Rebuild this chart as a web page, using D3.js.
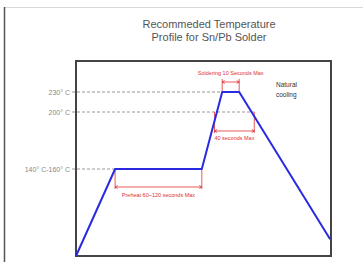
<!DOCTYPE html>
<html>
<head>
<meta charset="utf-8">
<script src="https://cdn.jsdelivr.net/npm/d3@7"></script>
<style>
  body { margin: 0; background: #fff; }
  svg { display: block; font-family: "Liberation Sans", Arial, sans-serif; }
</style>
</head>
<body>
<div id="chart"></div>
<script>
// profile points (time in s, temperature in deg C, schematic)
const profileTime = [0, 46, 148, 172, 192, 299];
const profileTemp = [25, 150, 150, 230, 230, 49];

const tempTicks = [230, 200, 150];
const tempLabels = ["230° C", "200° C", "140° C-160° C"];

const titleLines = ["Recommeded Temperature", "Profile for Sn/Pb Solder"];
const soakLabel = "Preheat 60~120 seconds Max";
const peakLabel = "Soldering 10 Seconds Max";
const reflowLabel = "40 seconds Max";
const coolLabel = ["Natural", "cooling"];

const W = 363, H = 262;
const box = {left: 76, top: 61, right: 331, bottom: 256};

const svg = d3.select("#chart").append("svg")
  .attr("width", W)
  .attr("height", H);

// page frame
svg.append("line")
  .attr("x1", 4).attr("x2", W).attr("y1", 7.5).attr("y2", 7.5)
  .attr("stroke", "#d8d8d8").attr("stroke-width", 1);
svg.append("line")
  .attr("x1", 4.5).attr("x2", 4.5).attr("y1", 7).attr("y2", H)
  .attr("stroke", "#555").attr("stroke-width", 1.5);

svg.selectAll(".title")
  .data(titleLines)
  .join("text")
    .attr("class", "title")
    .attr("x", 209)
    .attr("y", function(d, i){ return 28 + i * 13; })
    .attr("text-anchor", "middle")
    .attr("font-size", 11)
    .attr("fill", "#555")
    .text(function(d){ return d; });

const x = d3.scaleLinear()
  .domain([0, 300])
  .range([box.left, box.right]);

// schematic axis, not to scale
const y = d3.scaleLinear()
  .domain([25, 150, 200, 230, 276])
  .range([box.bottom, 169, 112, 92, box.top]);

const pts = profileTime.map(function(t, i){
  return {t: t, v: profileTemp[i]};
});

// where the profile crosses a temperature
const crossing = function(temp, a, b){
  const f = (temp - a.v) / (b.v - a.v);
  return a.t + f * (b.t - a.t);
};
const t200up = crossing(200, pts[2], pts[3]);
const t200down = crossing(200, pts[4], pts[5]);

// reference lines
const refEnds = [pts[3].t, t200down, pts[1].t];
svg.selectAll(".ref")
  .data(tempTicks)
  .join("line")
    .attr("class", "ref")
    .attr("x1", 72)
    .attr("x2", function(d, i){ return x(refEnds[i]); })
    .attr("y1", function(d){ return y(d); })
    .attr("y2", function(d){ return y(d); })
    .attr("stroke", "#999")
    .attr("stroke-width", 1)
    .attr("stroke-dasharray", "3,2");

svg.selectAll(".tlabel")
  .data(tempTicks)
  .join("text")
    .attr("class", "tlabel")
    .attr("x", 70)
    .attr("y", function(d){ return y(d) + 2.5; })
    .attr("text-anchor", "end")
    .attr("font-size", 7)
    .attr("fill", "#888")
    .text(function(d, i){ return tempLabels[i]; });

// plot box
svg.append("rect")
  .attr("x", box.left).attr("y", box.top)
  .attr("width", box.right - box.left)
  .attr("height", box.bottom - box.top)
  .attr("fill", "none")
  .attr("stroke", "#444")
  .attr("stroke-width", 2);

// red dimension brackets
const red = "#e03030";
const brackets = [
  {t0: pts[1].t, t1: pts[2].t, top: 150, yb: 187, label: soakLabel, ly: 197},
  {t0: pts[3].t, t1: pts[4].t, top: 230, yb: 82, label: peakLabel, ly: 75, up: true},
  {t0: t200up, t1: t200down, top: 200, yb: 131, label: reflowLabel, ly: 140}
];

const br = svg.selectAll(".bracket")
  .data(brackets)
  .join("g")
    .attr("class", "bracket")
    .attr("stroke", red)
    .attr("stroke-width", 0.8);

br.each(function(d){
  const g = d3.select(this);
  const x0 = x(d.t0), x1 = x(d.t1);
  const yEnd = d.up ? d.yb - 3 : d.yb + 2;
  [x0, x1].forEach(function(xx){
    g.append("line")
      .attr("x1", xx).attr("x2", xx)
      .attr("y1", y(d.top)).attr("y2", yEnd);
  });
  g.append("line")
    .attr("x1", x0).attr("x2", x1)
    .attr("y1", d.yb).attr("y2", d.yb);
  // small arrow heads
  g.append("path")
    .attr("fill", "none")
    .attr("d", "M" + (x0 + 2.5) + "," + (d.yb - 1.5) + "L" + x0 + "," + d.yb + "L" + (x0 + 2.5) + "," + (d.yb + 1.5)
      + "M" + (x1 - 2.5) + "," + (d.yb - 1.5) + "L" + x1 + "," + d.yb + "L" + (x1 - 2.5) + "," + (d.yb + 1.5));
  g.append("text")
    .attr("x", (x0 + x1) / 2)
    .attr("y", d.ly)
    .attr("text-anchor", "middle")
    .attr("font-size", 5.5)
    .attr("stroke", "none")
    .attr("fill", red)
    .text(d.label);
});

// profile line
const line = d3.line()
  .x(function(d){ return x(d.t); })
  .y(function(d){ return y(d.v); });

svg.append("path")
  .datum(pts)
  .attr("fill", "none")
  .attr("stroke", "#2a2ae0")
  .attr("stroke-width", 2)
  .attr("stroke-linejoin", "round")
  .attr("d", line);

svg.selectAll(".cool")
  .data(coolLabel)
  .join("text")
    .attr("class", "cool")
    .attr("x", 276)
    .attr("y", function(d, i){ return 87 + i * 10; })
    .attr("font-size", 6.5)
    .attr("fill", "#333")
    .text(function(d){ return d; });
</script>
</body>
</html>
